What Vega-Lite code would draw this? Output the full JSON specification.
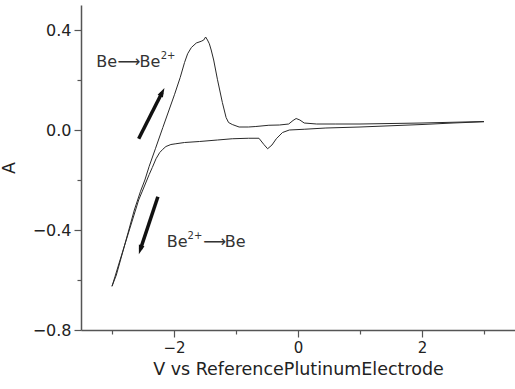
{
  "$schema": "https://vega.github.io/schema/vega-lite/v6.json",
  "width": 434,
  "height": 325,
  "autosize": "none",
  "padding": {"left": 81, "top": 5, "right": 0, "bottom": 59},
  "background": "white",
  "config": {
    "view": {"stroke": null},
    "axis": {
      "domainColor": "#555",
      "domainWidth": 1.5,
      "tickColor": "#555",
      "tickWidth": 1.2,
      "grid": false,
      "labelColor": "#222",
      "titleColor": "#222",
      "labelFont": "DejaVu Sans",
      "titleFont": "DejaVu Sans",
      "labelFontSize": 15,
      "titleFontSize": 17.5,
      "titleFontWeight": "normal"
    }
  },
  "datasets": {
    "cv": [
      {"i": 1, "v": 3.0, "a": 0.033},
      {"i": 2, "v": 2.5, "a": 0.028},
      {"i": 3, "v": 2.0, "a": 0.022},
      {"i": 4, "v": 1.5, "a": 0.017},
      {"i": 5, "v": 1.0, "a": 0.012},
      {"i": 6, "v": 0.45, "a": 0.008},
      {"i": 7, "v": 0.1, "a": 0.003},
      {"i": 8, "v": -0.14, "a": 0.0},
      {"i": 9, "v": -0.25, "a": -0.01},
      {"i": 10, "v": -0.35, "a": -0.035},
      {"i": 11, "v": -0.42, "a": -0.06},
      {"i": 12, "v": -0.49, "a": -0.075},
      {"i": 13, "v": -0.55, "a": -0.058},
      {"i": 14, "v": -0.63, "a": -0.033},
      {"i": 15, "v": -0.8, "a": -0.033},
      {"i": 16, "v": -1.06, "a": -0.035},
      {"i": 17, "v": -1.3, "a": -0.04},
      {"i": 18, "v": -1.59, "a": -0.046},
      {"i": 19, "v": -1.83, "a": -0.05},
      {"i": 20, "v": -1.97, "a": -0.055},
      {"i": 21, "v": -2.05, "a": -0.058},
      {"i": 22, "v": -2.13, "a": -0.066},
      {"i": 23, "v": -2.18, "a": -0.077},
      {"i": 24, "v": -2.23, "a": -0.09},
      {"i": 25, "v": -2.29, "a": -0.115},
      {"i": 26, "v": -2.35, "a": -0.15},
      {"i": 27, "v": -2.4, "a": -0.178},
      {"i": 28, "v": -2.47, "a": -0.22},
      {"i": 29, "v": -2.57, "a": -0.28},
      {"i": 30, "v": -2.67, "a": -0.36},
      {"i": 31, "v": -2.77, "a": -0.44},
      {"i": 32, "v": -2.87, "a": -0.52},
      {"i": 33, "v": -2.95, "a": -0.585},
      {"i": 34, "v": -3.0, "a": -0.625},
      {"i": 35, "v": -2.93, "a": -0.58},
      {"i": 36, "v": -2.84, "a": -0.5},
      {"i": 37, "v": -2.74, "a": -0.41},
      {"i": 38, "v": -2.64, "a": -0.32},
      {"i": 39, "v": -2.54, "a": -0.245},
      {"i": 40, "v": -2.47, "a": -0.2},
      {"i": 41, "v": -2.4, "a": -0.145},
      {"i": 42, "v": -2.3, "a": -0.075},
      {"i": 43, "v": -2.18, "a": 0.01},
      {"i": 44, "v": -2.08, "a": 0.08},
      {"i": 45, "v": -1.99, "a": 0.143},
      {"i": 46, "v": -1.9, "a": 0.21},
      {"i": 47, "v": -1.83, "a": 0.27},
      {"i": 48, "v": -1.78, "a": 0.305},
      {"i": 49, "v": -1.72, "a": 0.33},
      {"i": 50, "v": -1.64, "a": 0.348},
      {"i": 51, "v": -1.56, "a": 0.355},
      {"i": 52, "v": -1.52, "a": 0.36},
      {"i": 53, "v": -1.49, "a": 0.372},
      {"i": 54, "v": -1.46, "a": 0.36},
      {"i": 55, "v": -1.43, "a": 0.345},
      {"i": 56, "v": -1.4, "a": 0.32},
      {"i": 57, "v": -1.36, "a": 0.28},
      {"i": 58, "v": -1.3, "a": 0.203},
      {"i": 59, "v": -1.22, "a": 0.11},
      {"i": 60, "v": -1.16, "a": 0.05},
      {"i": 61, "v": -1.12, "a": 0.03},
      {"i": 62, "v": -1.06, "a": 0.022},
      {"i": 63, "v": -0.95, "a": 0.012},
      {"i": 64, "v": -0.8, "a": 0.012},
      {"i": 65, "v": -0.68, "a": 0.014},
      {"i": 66, "v": -0.47, "a": 0.019},
      {"i": 67, "v": -0.3, "a": 0.02},
      {"i": 68, "v": -0.15, "a": 0.024},
      {"i": 69, "v": -0.08, "a": 0.038},
      {"i": 70, "v": -0.03, "a": 0.046},
      {"i": 71, "v": 0.03, "a": 0.04},
      {"i": 72, "v": 0.1, "a": 0.028},
      {"i": 73, "v": 0.3, "a": 0.024},
      {"i": 74, "v": 0.6, "a": 0.024},
      {"i": 75, "v": 1.0, "a": 0.024},
      {"i": 76, "v": 1.5, "a": 0.026},
      {"i": 77, "v": 2.0, "a": 0.028},
      {"i": 78, "v": 2.5, "a": 0.031},
      {"i": 79, "v": 3.0, "a": 0.034}
    ],
    "arrows": [
      {"id": "up", "x": -2.57, "y": -0.035, "x2": -2.194, "y2": 0.149},
      {"id": "down", "x": -2.26, "y": -0.267, "x2": -2.54, "y2": -0.476}
    ],
    "labels": [
      {"kind": "main", "x": -3.255, "y": 0.274, "t": "Be"},
      {"kind": "main", "x": -2.911, "y": 0.274, "t": "⟶"},
      {"kind": "main", "x": -2.556, "y": 0.274, "t": "Be"},
      {"kind": "sup", "x": -2.215, "y": 0.298, "t": "2+"},
      {"kind": "main", "x": -2.118, "y": -0.448, "t": "Be"},
      {"kind": "sup", "x": -1.782, "y": -0.424, "t": "2+"},
      {"kind": "main", "x": -1.53, "y": -0.448, "t": "⟶"},
      {"kind": "main", "x": -1.18, "y": -0.448, "t": "Be"}
    ]
  },
  "layer": [
    {
      "data": {"name": "cv"},
      "mark": {"type": "line", "color": "#2a2a2a", "strokeWidth": 1, "clip": true},
      "encoding": {
        "x": {
          "field": "v", "type": "quantitative",
          "scale": {"domain": [-3.5, 3.5], "nice": false, "zero": false},
          "axis": {
            "title": "V vs ReferencePlutinumElectrode",
            "values": [-3, -2, -1, 0, 1, 2, 3],
            "format": "d",
            "labelExpr": "datum.value % 2 == 0 ? datum.label : ''",
            "tickSize": {"condition": {"test": "datum.value % 2 == 0", "value": 7}, "value": 4},
            "labelPadding": 3,
            "titlePadding": 5
          }
        },
        "y": {
          "field": "a", "type": "quantitative",
          "scale": {"domain": [-0.8, 0.5], "nice": false, "zero": false},
          "axis": {
            "title": "A",
            "values": [-0.8, -0.6, -0.4, -0.2, 0, 0.2, 0.4],
            "format": ".1f",
            "labelExpr": "abs(round(datum.value*10)) % 4 == 0 ? datum.label : ''",
            "labelFontSize": 16,
            "tickSize": {"condition": {"test": "abs(round(datum.value*10)) % 4 == 0", "value": 7}, "value": 4},
            "labelPadding": 3,
            "titlePadding": 14
          }
        },
        "order": {"field": "i", "type": "quantitative"}
      }
    },
    {
      "data": {"name": "arrows"},
      "mark": {"type": "rule", "color": "#111", "strokeWidth": 3.5},
      "encoding": {
        "x": {"field": "x", "type": "quantitative"},
        "y": {"field": "y", "type": "quantitative"},
        "x2": {"field": "x2"},
        "y2": {"field": "y2"}
      }
    },
    {
      "data": {"name": "arrows"},
      "transform": [{"filter": "datum.id == 'up'"}],
      "mark": {"type": "point", "shape": "M0,-1.3L0.7,0.9L-0.7,0.9Z", "filled": true, "color": "#111", "opacity": 1, "size": 70, "angle": 27},
      "encoding": {
        "x": {"field": "x2", "type": "quantitative"},
        "y": {"field": "y2", "type": "quantitative"}
      }
    },
    {
      "data": {"name": "arrows"},
      "transform": [{"filter": "datum.id == 'down'"}],
      "mark": {"type": "point", "shape": "M0,-1.3L0.7,0.9L-0.7,0.9Z", "filled": true, "color": "#111", "opacity": 1, "size": 70, "angle": 198},
      "encoding": {
        "x": {"field": "x2", "type": "quantitative"},
        "y": {"field": "y2", "type": "quantitative"}
      }
    },
    {
      "data": {"name": "labels"},
      "transform": [{"filter": "datum.kind == 'main'"}],
      "mark": {"type": "text", "align": "left", "baseline": "middle", "font": "DejaVu Sans", "fontSize": 16, "color": "#333"},
      "encoding": {
        "x": {"field": "x", "type": "quantitative"},
        "y": {"field": "y", "type": "quantitative"},
        "text": {"field": "t"}
      }
    },
    {
      "data": {"name": "labels"},
      "transform": [{"filter": "datum.kind == 'sup'"}],
      "mark": {"type": "text", "align": "left", "baseline": "middle", "font": "DejaVu Sans", "fontSize": 10, "color": "#333"},
      "encoding": {
        "x": {"field": "x", "type": "quantitative"},
        "y": {"field": "y", "type": "quantitative"},
        "text": {"field": "t"}
      }
    }
  ]
}
